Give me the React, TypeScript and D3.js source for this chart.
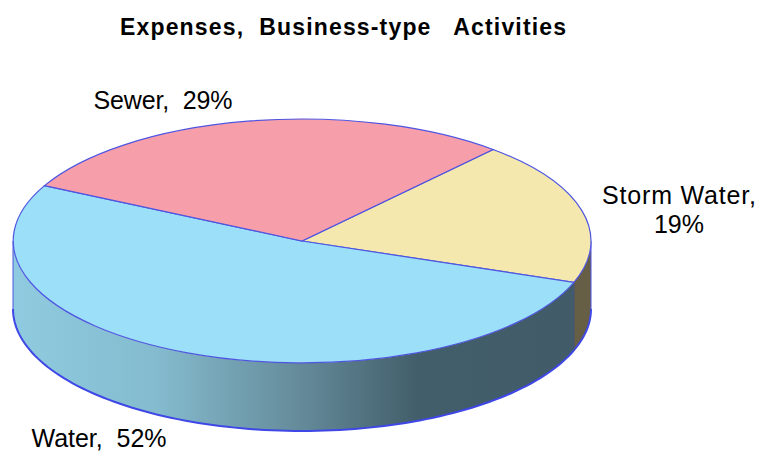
import React from "react";
import * as d3 from "d3";

const categories = ["Storm Water", "Water", "Sewer"];
const shares = [19, 52, 29];
const topColors = ["#f4e8ae", "#9be0f8", "#f79eab"];
const sideColors = ["#665f45", "url(#waterSide)", "#7a4f55"];
const titleText = "Expenses,  Business-type   Activities";
const firstSliceDeg = 41.4;

const W = 758, H = 451;
const cx = 302, cy = 241, rx = 289, ry = 122, depth = 68;
const edge = "#4f55e0";

const toRad = (d: number) => (d * Math.PI) / 180;
const start = toRad(firstSliceDeg);
const pie = d3.pie<number>().sort(null).startAngle(start).endAngle(start + Math.PI * 2);
const arcs = pie(shares);
const arcPath = d3.arc<d3.PieArcDatum<number>>().innerRadius(0).outerRadius(1);

const xs = d3.scaleLinear().domain([-1, 1]).range([cx - rx, cx + rx]);
const ys = d3.scaleLinear().domain([-1, 1]).range([cy - ry, cy + ry]);

// rim band between the top ellipse and the same ellipse shifted down
function band(a0: number, a1: number) {
  const n = 80;
  const angles = d3.range(n + 1).map((i) => a0 + ((a1 - a0) * i) / n);
  const top: [number, number][] = angles.map((a) => [xs(Math.sin(a)), ys(-Math.cos(a))]);
  const bot: [number, number][] = angles
    .slice()
    .reverse()
    .map((a) => [xs(Math.sin(a)), ys(-Math.cos(a)) + depth]);
  return d3.line().curve(d3.curveLinear)([...top, ...bot])! + "Z";
}
function lowerEdge(a0: number, a1: number) {
  const n = 120;
  const pts: [number, number][] = d3
    .range(n + 1)
    .map((i) => a0 + ((a1 - a0) * i) / n)
    .map((a) => [xs(Math.sin(a)), ys(-Math.cos(a)) + depth]);
  return d3.line()(pts)!;
}

export default function App() {
  const stormEnd = arcs[0].endAngle;
  return (
    <svg width={W} height={H} viewBox={`0 0 ${W} ${H}`} style={{ position: "absolute", left: 0, top: 0, background: "#fff" }}>
      <defs>
        <linearGradient id="waterSide" gradientUnits="userSpaceOnUse" x1={cx - rx} x2={cx + rx} y1={0} y2={0}>
          <stop offset="0" stopColor="#8fcbe0" />
          <stop offset="0.25" stopColor="#84bbce" />
          <stop offset="0.5" stopColor="#648a99" />
          <stop offset="0.7" stopColor="#425e6a" />
          <stop offset="1" stopColor="#415c68" />
        </linearGradient>
      </defs>
      <text x={343} y={35} textAnchor="middle" fontFamily="Liberation Sans" fontWeight="bold" fontSize={23} textLength={446} lengthAdjust="spacing" style={{ whiteSpace: "pre" }}>
        {titleText}
      </text>

      <path d={band(Math.PI / 2, stormEnd)} fill={sideColors[0]} />
      <path d={band(stormEnd, Math.PI * 1.5)} fill={sideColors[1]} />
      <line x1={xs(-1)} x2={xs(-1)} y1={cy} y2={cy + depth} stroke={edge} strokeWidth={1} />
      <line x1={xs(1)} x2={xs(1)} y1={cy} y2={cy + depth} stroke={edge} strokeWidth={1} />
      <path d={lowerEdge(Math.PI / 2, Math.PI * 1.5)} fill="none" stroke="#3f47e6" strokeWidth={2} />
      <line
        x1={xs(Math.sin(stormEnd))}
        x2={xs(Math.sin(stormEnd))}
        y1={ys(-Math.cos(stormEnd))}
        y2={ys(-Math.cos(stormEnd)) + depth}
        stroke="#3d4f7a"
        strokeWidth={1}
      />

      <g transform={`translate(${cx},${cy}) scale(${rx},${ry})`}>
        {arcs.map((a, i) => (
          <path key={categories[i]} d={arcPath(a)!} fill={topColors[i]} stroke={edge} strokeWidth={1.2} vectorEffect="non-scaling-stroke" />
        ))}
      </g>

      <g fontFamily="Liberation Sans" fontSize={25} fill="#000">
        <text x={163} y={109} textAnchor="middle" textLength={139} lengthAdjust="spacing" style={{ whiteSpace: "pre" }}>{`${categories[2]},  ${shares[2]}%`}</text>
        <text x={679} y={204} textAnchor="middle" textLength={154} lengthAdjust="spacing">{`${categories[0]},`}</text>
        <text x={679} y={233} textAnchor="middle">{`${shares[0]}%`}</text>
        <text x={99} y={447} textAnchor="middle" textLength={135} lengthAdjust="spacing" style={{ whiteSpace: "pre" }}>{`${categories[1]},  ${shares[1]}%`}</text>
      </g>
    </svg>
  );
}
